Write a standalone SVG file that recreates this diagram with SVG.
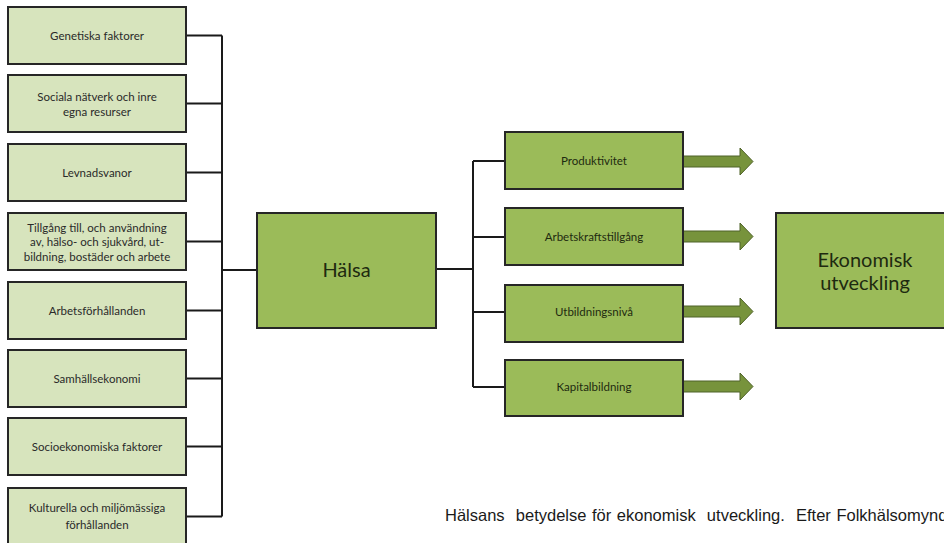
<svg xmlns="http://www.w3.org/2000/svg" width="944" height="543" viewBox="0 0 944 543">
<style>
.lb{fill:#d7e4bd;stroke:#262626;stroke-width:2}
.gb{fill:#9bbb59;stroke:#262626;stroke-width:2}
.t{font-family:Lato,"Open Sans",sans-serif;font-size:11.5px;fill:#2a2a2a;text-anchor:middle}
.tg{font-family:Lato,"Open Sans",sans-serif;font-size:11.5px;fill:#1e2a10;text-anchor:middle}
.big{font-family:Lato,"Open Sans",sans-serif;font-size:20px;fill:#1e2a10;text-anchor:middle}
.ln{fill:none;stroke:#1a1a1a;stroke-width:2}
.ar{fill:#77933c;stroke:#4f6228;stroke-width:1}
.cap{font-family:"Liberation Sans",Arial,sans-serif;font-size:16.5px;word-spacing:1px;fill:#1a1a1a}
</style>
<rect width="944" height="543" fill="#ffffff"/>
<g id="connectors">
<path class="ln" d="M186 35.5H222M186 103.5H222M186 172.5H222M186 241.5H222M186 310.5H222M186 378.5H222M186 446.5H222M186 516.5H222M222 35.5V516.5M222 270H257"/>
<path class="ln" d="M436 269H473M473 161V387M473 161H505M473 237H505M473 312H505M473 387H505"/>
<path class="ar" d="M683 156H740V148L753 161.5L740 175V167H683Z"/>
<path class="ar" d="M683 231H740V223L753 236.5L740 250V242H683Z"/>
<path class="ar" d="M683 306H740V298L753 311.5L740 325V317H683Z"/>
<path class="ar" d="M683 381H740V373L753 386.5L740 400V392H683Z"/>
</g>
<g id="n1"><rect class="lb" x="8" y="7" width="178" height="57"/><text class="t" x="97" y="39.5">Genetiska faktorer</text></g>
<g id="n2"><rect class="lb" x="8" y="75" width="178" height="57"/><text class="t" x="97" y="100.5">Sociala nätverk och inre</text><text class="t" x="97" y="115.5">egna resurser</text></g>
<g id="n3"><rect class="lb" x="8" y="144" width="178" height="57"/><text class="t" x="97" y="176.5">Levnadsvanor</text></g>
<g id="n4"><rect class="lb" x="8" y="213" width="178" height="57"/><text class="t" x="97" y="231.5">Tillgång till, och användning</text><text class="t" x="97" y="246">av, hälso- och sjukvård, ut-</text><text class="t" x="97" y="260.5">bildning, bostäder och arbete</text></g>
<g id="n5"><rect class="lb" x="8" y="282" width="178" height="57"/><text class="t" x="97" y="314.5">Arbetsförhållanden</text></g>
<g id="n6"><rect class="lb" x="8" y="350" width="178" height="57"/><text class="t" x="97" y="382.5">Samhällsekonomi</text></g>
<g id="n7"><rect class="lb" x="8" y="418" width="178" height="57"/><text class="t" x="97" y="450.5">Socioekonomiska  faktorer</text></g>
<g id="n8"><rect class="lb" x="8" y="488" width="178" height="60"/><text class="t" x="97" y="512">Kulturella och miljömässiga</text><text class="t" x="97" y="528.5">förhållanden</text></g>
<g id="halsa"><rect class="gb" x="257" y="213" width="179" height="115"/><text class="big" x="346.5" y="277">Hälsa</text></g>
<g id="r1"><rect class="gb" x="505" y="132" width="178" height="57"/><text class="tg" x="594" y="165">Produktivitet</text></g>
<g id="r2"><rect class="gb" x="505" y="208" width="178" height="57"/><text class="tg" x="594" y="241">Arbetskraftstillgång</text></g>
<g id="r3"><rect class="gb" x="505" y="285" width="178" height="57"/><text class="tg" x="594" y="316">Utbildningsnivå</text></g>
<g id="r4"><rect class="gb" x="505" y="360" width="178" height="56"/><text class="tg" x="594" y="391">Kapitalbildning</text></g>
<g id="ekon"><rect class="gb" x="776" y="213" width="180" height="115"/><text class="big" x="865" y="267">Ekonomisk</text><text class="big" x="865" y="290">utveckling</text></g>
<text class="cap" x="445" y="521" xml:space="preserve">Hälsans  betydelse för ekonomisk  utveckling.  Efter Folkhälsomyndigheten</text>
</svg>
